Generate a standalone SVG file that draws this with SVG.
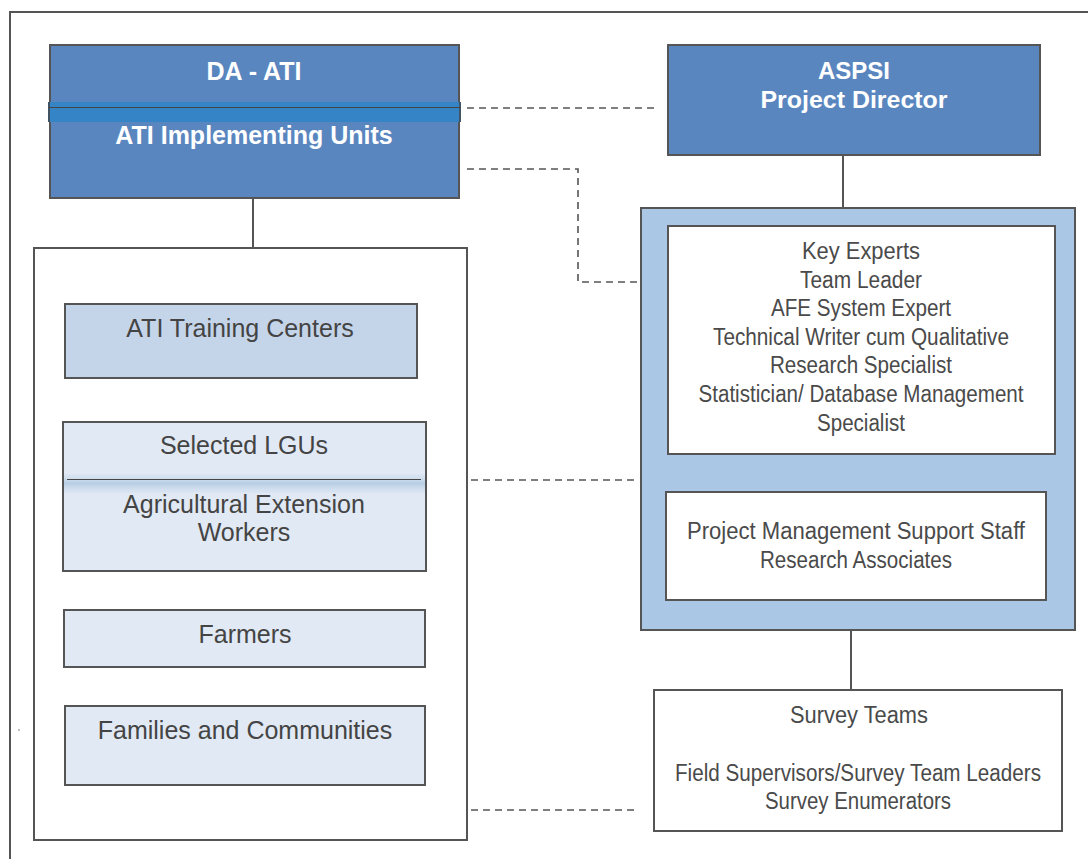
<svg xmlns="http://www.w3.org/2000/svg" width="1088" height="859" viewBox="0 0 1088 859">
<defs>
<style>
.frame{fill:none;stroke:#555;stroke-width:2}
.box{stroke:#555;stroke-width:2}
.dark{fill:#5a86bf}
.mid{fill:#c5d5e9}
.light{fill:#e1e9f4}
.white{fill:#fff}
.blue2{fill:#aac7e5}
.ln{stroke:#555;stroke-width:2;fill:none}
.dash{stroke:#555;stroke-width:1.6;fill:none;stroke-dasharray:7 5}
.tw{font-family:"Liberation Sans",Arial,sans-serif;font-weight:bold;fill:#fff;text-anchor:middle}
.tl{font-family:"Liberation Sans",Arial,sans-serif;font-size:25px;fill:#444;text-anchor:middle}
.tn{font-family:"Liberation Sans",Arial,sans-serif;font-size:23px;fill:#4a4a4a;text-anchor:middle}
</style>
<linearGradient id="bandL" x1="0" y1="0" x2="0" y2="1">
<stop offset="0" stop-color="#cfdeee" stop-opacity="0.3"/>
<stop offset="0.5" stop-color="#b6cde4"/>
<stop offset="1" stop-color="#cfdeee" stop-opacity="0.3"/>
</linearGradient>
</defs>
<path class="frame" d="M10,859 V12 H1090"/>
<circle cx="19" cy="730" r="0.7" fill="#555"/>
<g id="connectors">
<line class="ln" x1="253" y1="198" x2="253" y2="248"/>
<line class="ln" x1="237" y1="378" x2="237" y2="422"/>
<line class="ln" x1="236" y1="571" x2="236" y2="610"/>
<line class="ln" x1="236" y1="667" x2="236" y2="706"/>
<line class="ln" x1="843" y1="155" x2="843" y2="208"/>
<line class="ln" x1="850" y1="454" x2="850" y2="488"/>
<line class="ln" x1="851" y1="630" x2="851" y2="690"/>
<path class="dash" d="M467,108 H657"/>
<path class="dash" d="M467,169 H578 V282 H637"/>
<path class="dash" d="M471,480 H637"/>
<path class="dash" d="M471,810 H637"/>
</g>
<g id="da-ati">
<rect class="box dark" x="50" y="45" width="409" height="153"/>
<rect x="48" y="102" width="413" height="20" fill="#3584c6"/>
<line x1="49" y1="107.5" x2="460" y2="107.5" stroke="#444" stroke-width="1"/>
<line x1="49" y1="102" x2="49" y2="122" stroke="#444" stroke-width="1.5"/>
<line x1="460" y1="102" x2="460" y2="122" stroke="#444" stroke-width="1.5"/>
<text class="tw" x="254" y="80" font-size="25">DA - ATI</text>
<text class="tw" x="254" y="144" font-size="25">ATI Implementing Units</text>
</g>
<g id="aspsi">
<rect class="box dark" x="668" y="45" width="372" height="110"/>
<text class="tw" x="854" y="79" font-size="23" textLength="72" lengthAdjust="spacingAndGlyphs">ASPSI</text>
<text class="tw" x="854" y="108" font-size="23" textLength="187" lengthAdjust="spacingAndGlyphs">Project Director</text>
</g>
<g id="left-group">
<rect class="box white" x="34" y="248" width="433" height="592"/>
</g>
<g id="training-centers">
<rect class="box mid" x="65" y="304" width="352" height="74"/>
<text class="tl" x="240" y="337">ATI Training Centers</text>
</g>
<g id="lgus">
<rect class="box light" x="63" y="422" width="363" height="149"/>
<rect x="64" y="474" width="361" height="19" fill="url(#bandL)"/>
<line x1="67" y1="479.5" x2="421" y2="479.5" stroke="#444" stroke-width="1"/>
<line x1="63" y1="474" x2="63" y2="492" stroke="#555" stroke-width="1.5"/>
<line x1="426" y1="474" x2="426" y2="492" stroke="#555" stroke-width="1.5"/>
<text class="tl" x="244" y="454">Selected LGUs</text>
<text class="tl" x="244" y="513">Agricultural Extension</text>
<text class="tl" x="244" y="541">Workers</text>
</g>
<g id="farmers">
<rect class="box light" x="64" y="610" width="361" height="57"/>
<text class="tl" x="245" y="643">Farmers</text>
</g>
<g id="families">
<rect class="box light" x="65" y="706" width="360" height="79"/>
<text class="tl" x="245" y="739">Families and Communities</text>
</g>
<g id="team-group">
<rect class="box blue2" x="641" y="208" width="434" height="422"/>
</g>
<g id="key-experts">
<rect class="box white" x="668" y="226" width="387" height="228"/>
<text class="tn" x="861" y="259" textLength="118" lengthAdjust="spacingAndGlyphs">Key Experts</text>
<text class="tn" x="861" y="288" textLength="122" lengthAdjust="spacingAndGlyphs">Team Leader</text>
<text class="tn" x="861" y="316" textLength="180" lengthAdjust="spacingAndGlyphs">AFE System Expert</text>
<text class="tn" x="861" y="345" textLength="296" lengthAdjust="spacingAndGlyphs">Technical Writer cum Qualitative</text>
<text class="tn" x="861" y="373" textLength="182" lengthAdjust="spacingAndGlyphs">Research Specialist</text>
<text class="tn" x="861" y="402" textLength="325" lengthAdjust="spacingAndGlyphs">Statistician/ Database Management</text>
<text class="tn" x="861" y="431" textLength="88" lengthAdjust="spacingAndGlyphs">Specialist</text>
</g>
<g id="support-staff">
<rect class="box white" x="666" y="492" width="380" height="108"/>
<text class="tn" x="856" y="539" textLength="338" lengthAdjust="spacingAndGlyphs">Project Management Support Staff</text>
<text class="tn" x="856" y="568" textLength="192" lengthAdjust="spacingAndGlyphs">Research Associates</text>
</g>
<g id="survey-teams">
<rect class="box white" x="654" y="690" width="408" height="141"/>
<text class="tn" x="859" y="723" textLength="138" lengthAdjust="spacingAndGlyphs">Survey Teams</text>
<text class="tn" x="858" y="781" textLength="366" lengthAdjust="spacingAndGlyphs">Field Supervisors/Survey Team Leaders</text>
<text class="tn" x="858" y="809" textLength="186" lengthAdjust="spacingAndGlyphs">Survey Enumerators</text>
</g>
</svg>
